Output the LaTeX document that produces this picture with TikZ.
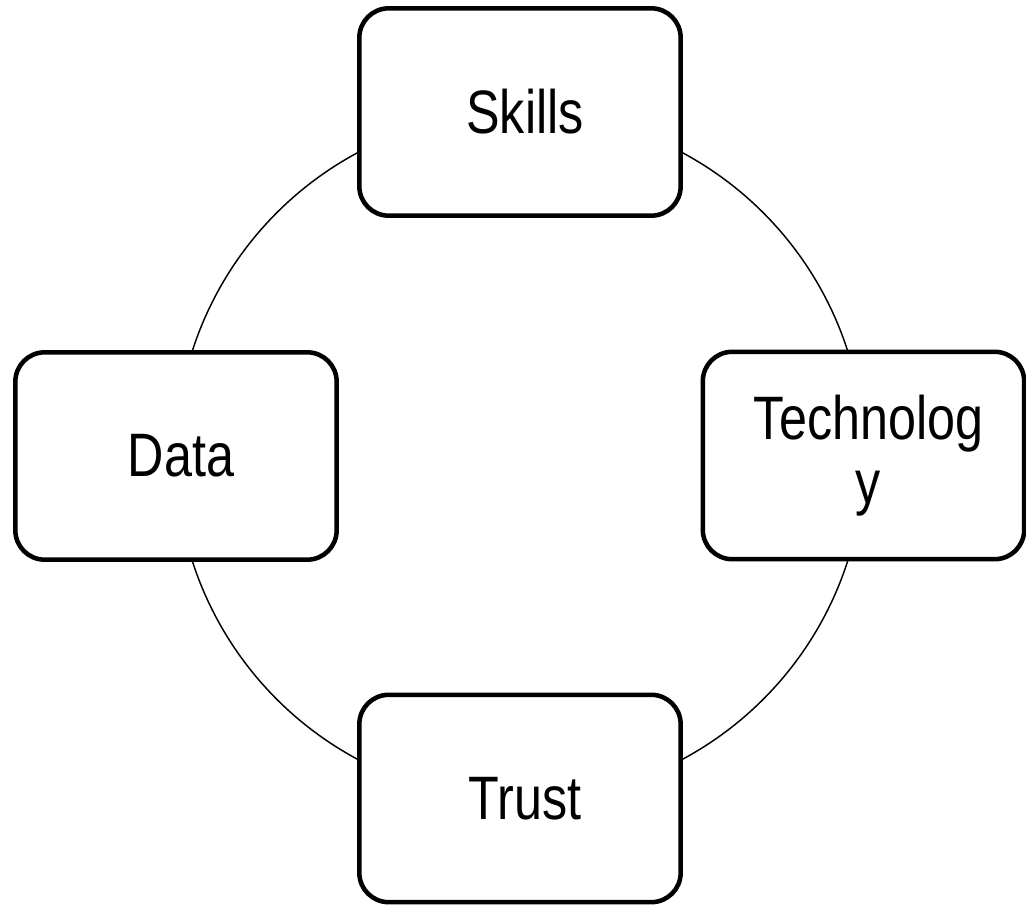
\documentclass[tikz,border=0pt]{standalone}
\usepackage{fontspec}
\setmainfont{Liberation Sans}[FakeStretch=0.82]
\usetikzlibrary{positioning}

\newcommand{\nudge}{\hspace*{7.5pt}}

\tikzset{
  pillar/.style={draw, line width=3.4pt, rounded corners=22pt, fill=white,
    minimum width=241pt, minimum height=155.5pt, inner sep=0pt, align=center,
    font=\fontsize{46}{48}\selectfont},
  ring/.style={line width=1.1pt},
}

\begin{document}
\begin{tikzpicture}[x=0.75pt,y=0.75pt,yscale=-1,xscale=1]
	\useasboundingbox (0,0) rectangle (1026,907);

	%Shape: Circle
	\coordinate (hub) at (520,456);
	\draw [ring] (hub) circle [radius=344];

	%Shape: Rounded Rectangle
	\node [pillar] (skills) at (520,112) {\nudge Skills};
	%Shape: Rounded Rectangle
	\node [pillar] (data) at (176,456) {\nudge Data};
	%Shape: Rounded Rectangle
	\node [pillar] (tech) at (863.5,455.5) {\nudge Technolog\\\nudge y};
	%Shape: Rounded Rectangle
	\node [pillar] (trust) at (520,798.5) {\nudge Trust};

\end{tikzpicture}
\end{document}
